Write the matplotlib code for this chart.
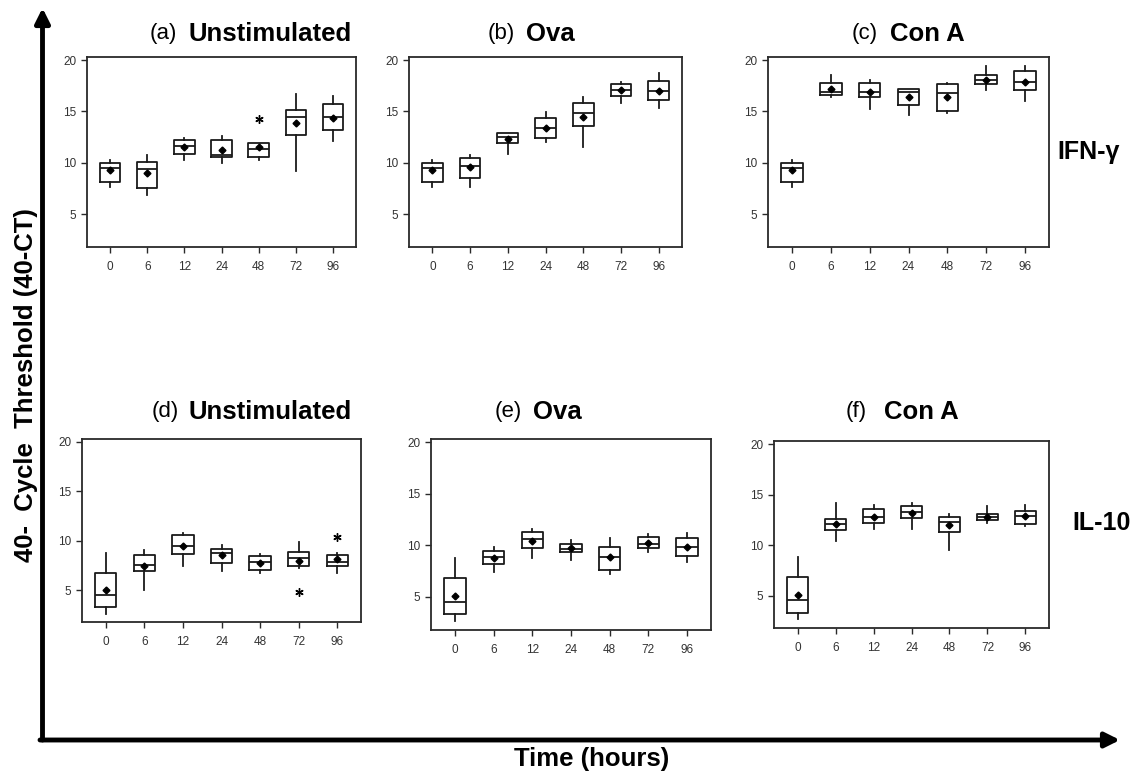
import matplotlib
matplotlib.use("Agg")
import matplotlib.pyplot as plt

plt.rcParams['font.family'] = ['Liberation Sans', 'DejaVu Sans']

times = ['0', '6', '12', '24', '48', '72', '96']

# each row: whisker low, Q1, median, Q3, whisker high, mean
ifn_unstim = [(7.6, 8.1, 9.5, 10.0, 10.3, 9.25),
              (6.9, 7.5, 9.4, 10.1, 10.8, 9.05),
              (10.3, 10.9, 11.6, 12.2, 12.4, 11.5),
              (10.0, 10.6, 10.75, 12.2, 12.6, 11.2),
              (10.3, 10.55, 11.35, 11.95, 11.95, 11.5),
              (9.2, 12.7, 14.5, 15.15, 16.65, 13.9),
              (12.1, 13.15, 14.5, 15.7, 16.55, 14.4)]
ifn_ova = [(7.6, 8.1, 9.5, 10.0, 10.3, 9.25),
           (7.65, 8.55, 9.7, 10.5, 10.8, 9.6),
           (10.9, 11.9, 12.5, 12.9, 12.9, 12.35),
           (12.05, 12.4, 13.4, 14.35, 14.9, 13.4),
           (11.55, 13.6, 14.8, 15.8, 16.4, 14.5),
           (15.8, 16.5, 17.05, 17.7, 17.9, 17.05),
           (15.3, 16.1, 17.0, 17.95, 18.7, 17.0)]
ifn_cona = [(7.6, 8.1, 9.5, 10.0, 10.3, 9.25),
            (16.4, 16.6, 16.9, 17.75, 18.5, 17.15),
            (15.2, 16.4, 16.9, 17.8, 18.1, 16.9),
            (14.7, 15.65, 16.9, 17.2, 17.2, 16.4),
            (14.85, 15.05, 16.8, 17.7, 17.8, 16.45),
            (17.05, 17.7, 18.1, 18.5, 19.4, 18.1),
            (16.0, 17.1, 17.9, 18.9, 19.4, 17.9)]
il10_unstim = [(2.65, 3.33, 4.55, 6.8, 8.8, 5.05),
               (5.0, 7.0, 7.55, 8.55, 9.05, 7.5),
               (7.5, 8.65, 9.5, 10.6, 10.75, 9.5),
               (7.0, 7.75, 8.8, 9.2, 9.6, 8.55),
               (6.75, 7.05, 7.9, 8.45, 8.7, 7.75),
               (7.3, 7.5, 8.3, 8.9, 9.9, 7.95),
               (6.8, 7.5, 7.9, 8.6, 8.8, 8.2)]
il10_ova = [(2.65, 3.33, 4.55, 6.8, 8.8, 5.05),
            (7.4, 8.15, 8.85, 9.5, 9.85, 8.75),
            (8.75, 9.75, 10.65, 11.3, 11.55, 10.4),
            (8.6, 9.35, 9.6, 10.15, 10.55, 9.7),
            (7.2, 7.6, 8.85, 9.8, 10.7, 8.85),
            (9.4, 9.7, 10.15, 10.85, 11.05, 10.2),
            (8.4, 8.95, 9.8, 10.75, 11.2, 9.8)]
il10_cona = [(2.65, 3.33, 4.55, 6.8, 8.8, 5.05),
             (10.45, 11.45, 12.05, 12.6, 14.2, 12.05),
             (11.6, 12.15, 12.8, 13.6, 14.0, 12.8),
             (11.55, 12.7, 13.25, 13.9, 14.2, 13.2),
             (9.5, 11.3, 12.25, 12.8, 13.05, 11.95),
             (12.2, 12.45, 12.8, 13.1, 13.9, 12.8),
             (11.9, 12.1, 12.85, 13.4, 14.0, 12.9)]

# outliers, by time index
ifn_unstim_out = {4: [14.3]}
il10_unstim_out = {5: [4.85], 6: [10.4]}

panels = [
    (ifn_unstim, ifn_unstim_out, [87, 57, 356, 247], '(a)', 'Unstimulated', 150, 188, 34),
    (ifn_ova, {}, [409, 57, 682, 247], '(b)', 'Ova', 488, 526, 34),
    (ifn_cona, {}, [768, 57, 1049, 247], '(c)', 'Con A', 852, 890, 34),
    (il10_unstim, il10_unstim_out, [82, 439, 361, 622], '(d)', 'Unstimulated', 152, 189, 412),
    (il10_ova, {}, [431, 439, 711, 630], '(e)', 'Ova', 495, 533, 412),
    (il10_cona, {}, [774, 441, 1049, 628], '(f)', 'Con A', 846, 884, 412),
]

W, H = 1133, 773
fig = plt.figure(figsize=(W / 100, H / 100), dpi=100)
edge = '#1a1a1a'

for rows, outs, (x0, y0, x1, y1), tag, name, tx, nx, ty in panels:
    ax = fig.add_axes([x0 / W, 1 - y1 / H, (x1 - x0) / W, (y1 - y0) / H])
    stats = []
    for i, (lo, q1, med, q3, hi, mean) in enumerate(rows):
        stats.append(dict(whislo=lo, q1=q1, med=med, q3=q3, whishi=hi,
                          mean=mean, fliers=outs.get(i, []), label=times[i]))
    ax.bxp(stats, widths=0.55, showcaps=False, showmeans=True, showfliers=True,
           boxprops=dict(color=edge, lw=1.3),
           whiskerprops=dict(color=edge, lw=1.3),
           medianprops=dict(color=edge, lw=1.3),
           meanprops=dict(marker='D', markerfacecolor='black', markeredgecolor='black',
                          markersize=3.5),
           flierprops=dict(marker=(6, 2, 0), markeredgecolor='black', markersize=6,
                           markeredgewidth=1.0))
    ax.set_xlim(0.38, 7.62)
    ax.set_ylim(1.8, 20.3)
    ax.set_yticks([5, 10, 15, 20])
    for s in ax.spines.values():
        s.set_color('#2a2a2a')
        s.set_linewidth(1.3)
    ax.tick_params(axis='both', direction='out', length=4, width=1.0, color='#2a2a2a',
                   labelcolor='#333333', labelsize=8.5)
    ax.tick_params(axis='x', pad=6)
    fig.text(tx / W, 1 - ty / H, tag, fontsize=16, ha='left', va='center')
    fig.text(nx / W, 1 - ty / H, name, fontsize=18.5, fontweight='bold',
             ha='left', va='center')

fig.text(1057 / W, 1 - 152 / H, 'IFN-γ', fontsize=18, fontweight='bold',
         ha='left', va='center')
fig.text(1072 / W, 1 - 523 / H, 'IL-10', fontsize=18, fontweight='bold',
         ha='left', va='center')
fig.text(26 / W, 1 - 385 / H, '40-  Cycle  Threshold (40-CT)', fontsize=18.5,
         fontweight='bold', rotation=90, ha='center', va='center')
fig.text(592 / W, 1 - 759 / H, 'Time (hours)', fontsize=18.5, fontweight='bold',
         ha='center', va='center')

# axis arrows
arrow = dict(arrowstyle='-|>', lw=3.5, color='black', mutation_scale=22,
             shrinkA=0, shrinkB=0)
fig.add_artist(plt.Annotation('', xy=(42.5 / W, 1 - 8 / H), xytext=(42.5 / W, 1 - 740 / H),
                              xycoords='figure fraction', textcoords='figure fraction',
                              arrowprops=arrow))
fig.add_artist(plt.Annotation('', xy=(1120 / W, 1 - 740 / H), xytext=(40 / W, 1 - 740 / H),
                              xycoords='figure fraction', textcoords='figure fraction',
                              arrowprops=arrow))

fig.savefig('out.png', dpi=100)
